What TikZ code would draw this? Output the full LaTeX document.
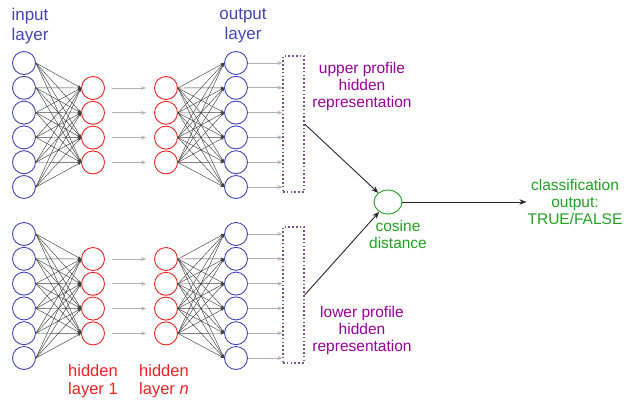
\documentclass[tikz,border=0pt]{standalone}
\usepackage{fontspec}
\setmainfont{Liberation Sans}
\usetikzlibrary{positioning, arrows.meta, shapes.geometric}

\definecolor{unitblue}{HTML}{4444B4}
\definecolor{unitred}{HTML}{EE2222}
\definecolor{cosgreen}{HTML}{22A022}
\definecolor{reppurple}{HTML}{990099}
\definecolor{boxpurple}{HTML}{7A4F8C}

\tikzset{
  inunit/.style={circle, draw=unitblue, line width=0.9pt, minimum size=23pt, inner sep=0pt},
  hidunit/.style={circle, draw=unitred, line width=0.9pt, minimum size=23pt, inner sep=0pt},
  weight/.style={black!75, line width=0.45pt, -{Stealth[length=3.5pt, width=3pt]}},
  passon/.style={black!30, line width=0.9pt, -{Stealth[length=5pt, width=4pt]}},
  reparrow/.style={black!85, line width=0.9pt, -{Stealth[length=7pt, width=5.5pt]}},
  repbox/.style={draw=boxpurple, dash pattern=on 1.6pt off 2.2pt, line width=1.3pt,
    minimum width=21pt, minimum height=136pt, inner sep=0pt},
  bluelabel/.style={text=unitblue, align=center, font=\fontsize{17}{20}\selectfont},
  redlabel/.style={text=unitred, align=center, font=\fontsize{16.5}{18.5}\selectfont},
  purplelabel/.style={text=reppurple, align=center, font=\fontsize{15.5}{17}\selectfont},
  greenlabel/.style={text=cosgreen, align=center, font=\fontsize{15.5}{17}\selectfont}
}

\begin{document}
\begin{tikzpicture}[x=1pt, y=-1pt]
  \useasboundingbox (0,0) rectangle (624,400);

  % Two siamese networks, upper (u) and lower (l)
  \foreach \p/\dy in {u/0, l/171} {
    % input and output layers
    \foreach \i in {1,...,6} {
      \node[inunit] (\p in\i) at (24, {63+\dy+(\i-1)*24.8}) {};
      \node[inunit] (\p out\i) at (236, {63+\dy+(\i-1)*24.8}) {};
    }
    % hidden layer 1 and hidden layer n
    \foreach \i in {1,...,4} {
      \node[hidunit] (\p hid\i) at (93, {88+\dy+(\i-1)*24.8}) {};
      \node[hidunit] (\p hidn\i) at (166, {88+\dy+(\i-1)*24.8}) {};
      \draw[passon, shorten <=7pt, shorten >=8pt] (\p hid\i.east) -- (\p hidn\i.west);
    }
    % weights
    \foreach \i in {1,...,6} {
      \foreach \j in {1,...,4} {
        \draw[weight] (\p in\i.east) -- (\p hid\j.west);
        \draw[weight] (\p hidn\j.east) -- (\p out\i.west);
      }
    }
    % hidden representation box
    \node[repbox] (\p box) at (293.5, {124+\dy}) {};
    \foreach \i in {1,...,6} {
      \draw[passon] (\p out\i.east) -- (\p out\i.east -| \p box.west);
    }
  }

  % Cosine distance and classification
  \node[ellipse, draw=cosgreen, line width=0.9pt, minimum width=28pt,
    minimum height=24pt, inner sep=0pt] (cosine) at (388, 202) {};
  \draw[reparrow] (ubox.east) -- (cosine);
  \draw[reparrow] (lbox.east) -- (cosine);
  \node[greenlabel, inner sep=1pt] (classify) at (575, 202)
    {classification\\output:\\TRUE/FALSE};
  \draw[reparrow] (cosine.east) -- (classify.west);

  % Labels
  \node[bluelabel] (inputlabel) at (30, 26) {input\\layer};
  \node[bluelabel] (outputlabel) at (243, 26) {output\\layer};
  \node[redlabel] (hidlabel) at (93, 381) {hidden\\layer 1};
  \node[redlabel] (hidnlabel) at (164, 381) {hidden\\layer \textit{n}};
  \node[purplelabel] (upperlabel) at (362, 86) {upper profile\\hidden\\representation};
  \node[purplelabel] (lowerlabel) at (362, 330) {lower profile\\hidden\\representation};
  \node[greenlabel] (coslabel) at (398, 234) {cosine\\distance};
\end{tikzpicture}
\end{document}
